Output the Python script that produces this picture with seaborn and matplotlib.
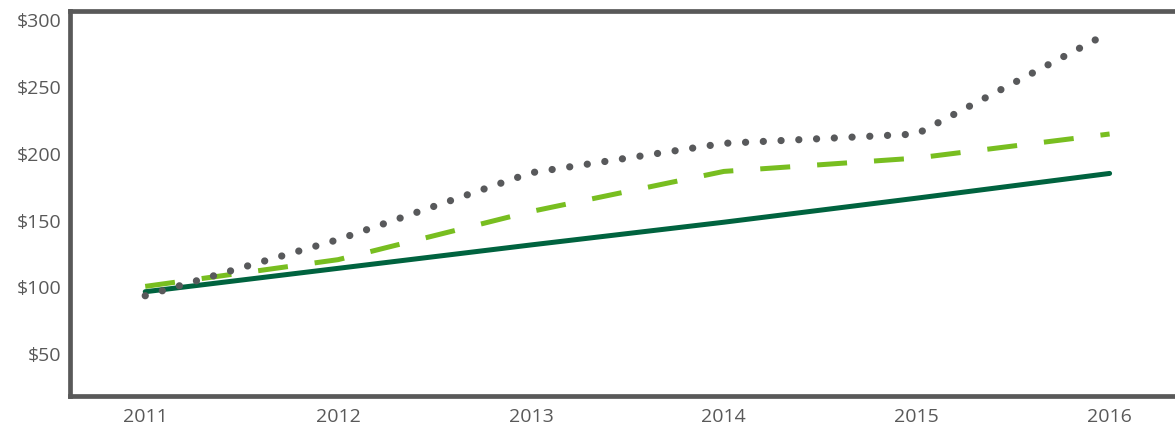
import matplotlib
matplotlib.use("Agg")
import matplotlib.pyplot as plt
import seaborn as sns
import pandas as pd

years = [2011, 2012, 2013, 2014, 2015, 2016]
solid_vals = [96, 113.5, 131, 148, 166, 184.5]
dashed_vals = [100, 120, 156, 186, 196, 214]
dotted_vals = [93, 135, 185, 207, 214, 290]
y_ticks = [50, 100, 150, 200, 250, 300]
y_labels = ["$50", "$100", "$150", "$200", "$250", "$300"]
x_labels = ["2011", "2012", "2013", "2014", "2015", "2016"]

sns.set_theme(style="white")
plt.rcParams['font.family'] = ['Open Sans', 'DejaVu Sans']

fig = plt.figure(figsize=(11.75, 4.27), dpi=100)
ax = fig.add_axes([70/1175, 1 - 397/427, 1 - 70/1175 + 0.01, (397-12)/427])

df = pd.DataFrame({"year": years, "solid": solid_vals, "dashed": dashed_vals, "dotted": dotted_vals})

sns.lineplot(data=df, x="year", y="solid", ax=ax, color="#00633f", linewidth=3.6)
sns.lineplot(data=df, x="year", y="dashed", ax=ax, color="#78be20", linewidth=3.6,
             dashes=False)
ax.lines[-1].set_dashes((6.0, 5.4))
ax.lines[-1].set_dash_capstyle("butt")
sns.lineplot(data=df, x="year", y="dotted", ax=ax, color="#58595b", linewidth=5.2)
ax.lines[-1].set_dashes((0.01, 2.45))
ax.lines[-1].set_dash_capstyle("round")

ax.set_xlim(2010.61, 2016.4)
ax.set_ylim(18, 306)
ax.set_xticks(years)
ax.set_xticklabels(x_labels)
ax.set_yticks(y_ticks)
ax.set_yticklabels(y_labels)
ax.set_xlabel("")
ax.set_ylabel("")
ax.tick_params(axis="both", length=0, labelsize=14, labelcolor="#595959")
ax.tick_params(axis="x", pad=8)
ax.tick_params(axis="y", pad=6)

for side in ["left", "top", "bottom"]:
    ax.spines[side].set_color("#595959")
    ax.spines[side].set_linewidth(3.4)
ax.spines["right"].set_visible(False)
ax.grid(False)

fig.savefig("out.png", dpi=100)
